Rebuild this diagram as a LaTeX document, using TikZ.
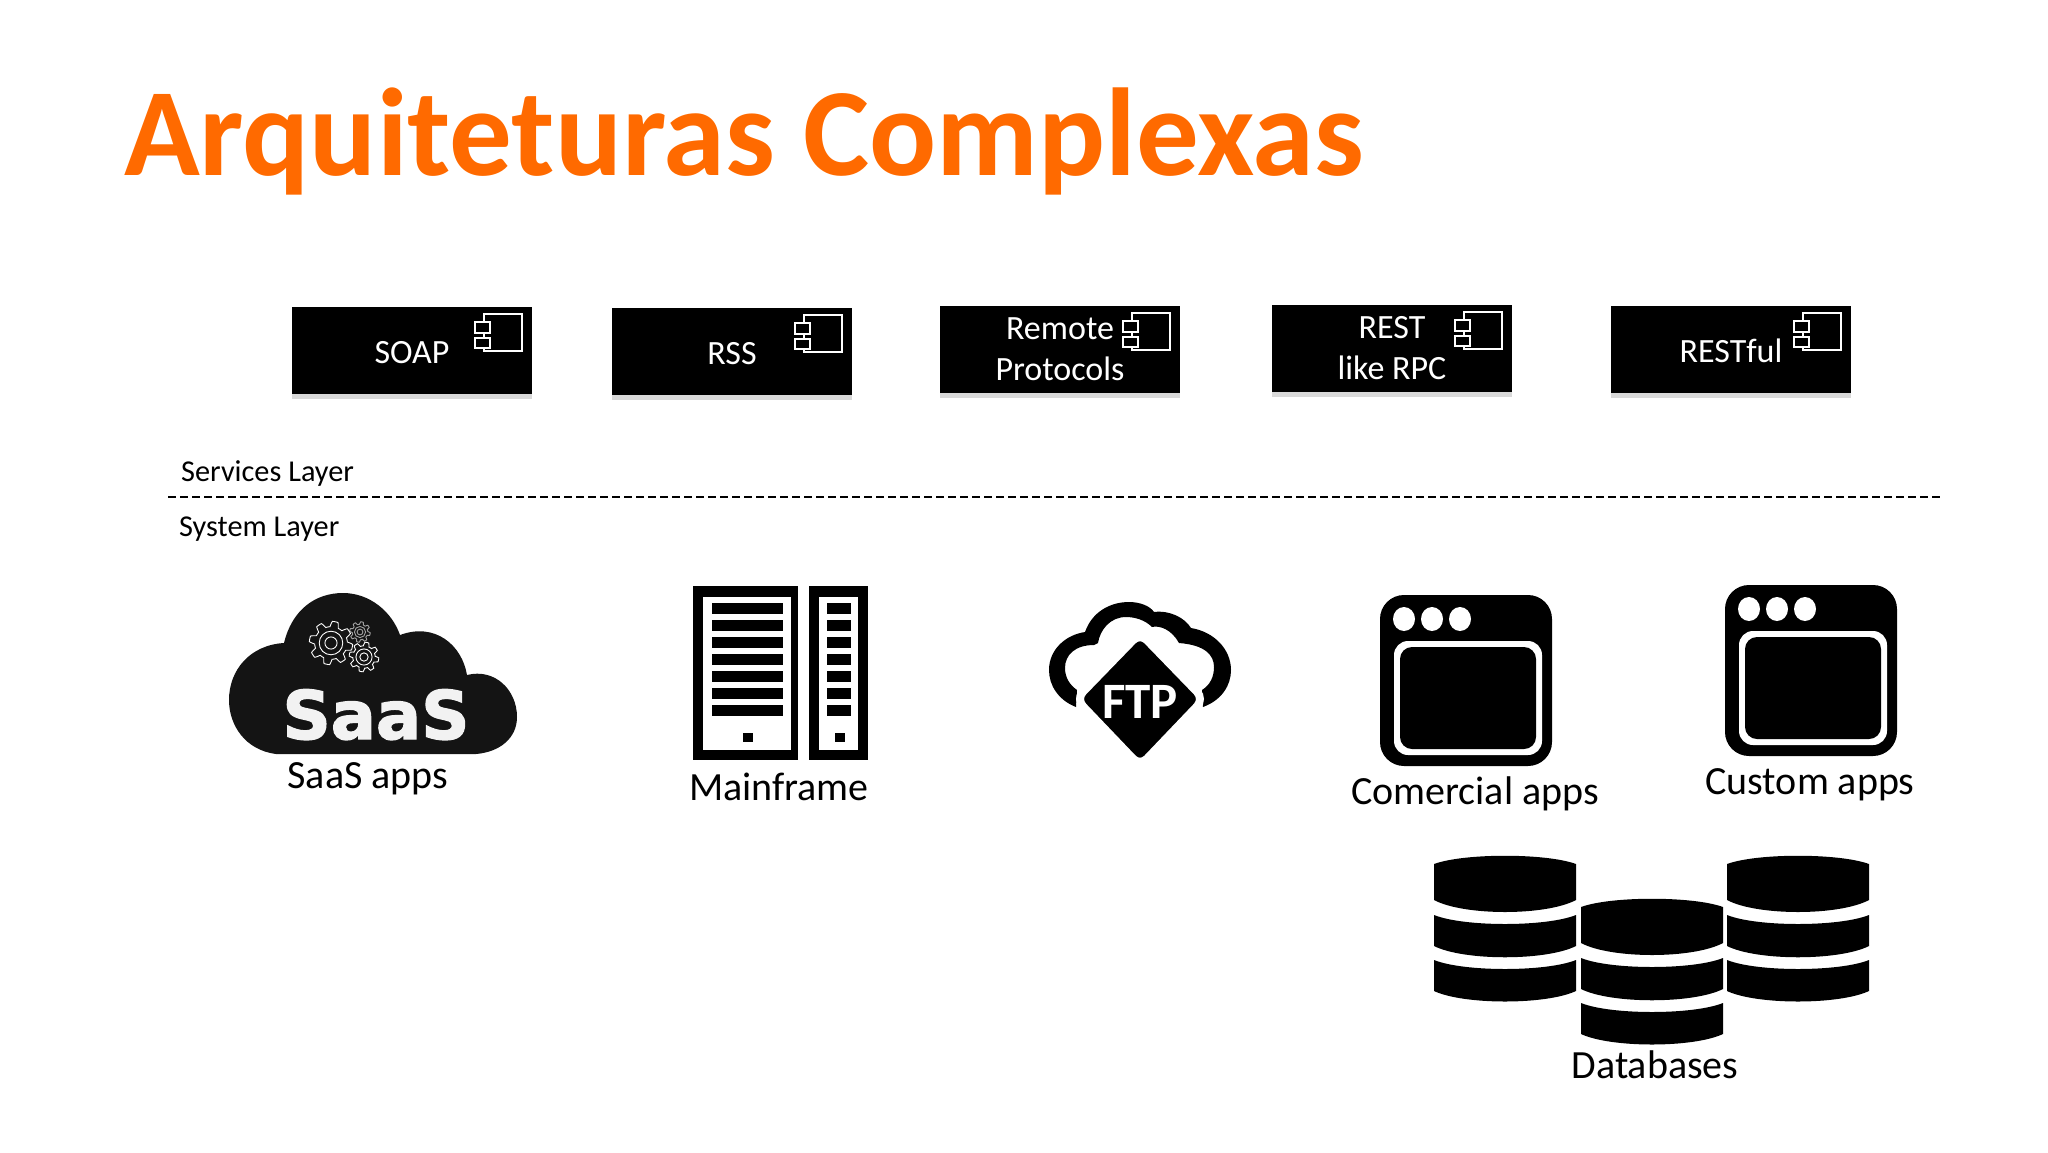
\documentclass[tikz,border=0pt]{standalone}
\usepackage{fontspec}
\setmainfont{Carlito}
\newfontfamily\saasfont[BoldFeatures={FakeBold=2}]{DejaVu Sans}
\usetikzlibrary{shadows}
\definecolor{titleorange}{HTML}{FF6A00}

\tikzset{
	compbox/.style={fill=black, text=white, minimum width=240pt, minimum height=87pt, inner sep=0pt, align=center,
		font=\fontsize{34}{41}\selectfont, execute at begin node={\rule{0pt}{27pt}},
		drop shadow={shadow xshift=0pt, shadow yshift=-5pt, opacity=.3}},
	layertext/.style={anchor=base west, inner sep=0pt, font=\fontsize{30.3}{37}\selectfont},
	apptext/.style={anchor=base, inner sep=0pt, font=\fontsize{40}{47}\selectfont},
	compicon/.pic={
		\draw[white, line width=1.8pt] (192,8) rectangle (230,45);
		\draw[white, fill=black, line width=1.8pt] (183,16) rectangle (198,27);
		\draw[white, fill=black, line width=1.8pt] (183,32) rectangle (198,42);
	},
	gearwheel/.pic={
		\draw[white, line width=.9pt] plot[domain=0:360, samples=97, smooth] (\x:{1+.14*sign(sin(8*\x))});
		\draw[white, line width=.9pt] (0,0) circle (.62);
		\draw[white, line width=.9pt] (0,0) circle (.32);
	},
	winicon/.pic={
		\fill[black, rounded corners=24pt] (0,0) rectangle (172,171);
		\fill[white, rounded corners=14pt] (14,46) rectangle (162,160);
		\fill[black, rounded corners=12pt] (20,52) rectangle (156,154);
		\foreach \dotx in {24,52,80} \fill[white] (\dotx,24) ellipse (11 and 12);
	},
	dbstack/.pic={
		\fill[black] (0,8) .. controls (30,-3) and (112,-3) .. (142,8) -- (142,44) .. controls (112,60) and (30,60) .. (0,44) -- cycle;
		\fill[black] (0,59) .. controls (30,71) and (112,71) .. (142,59) -- (142,90) .. controls (112,105) and (30,105) .. (0,90) -- cycle;
		\fill[black] (0,104) .. controls (30,116) and (112,116) .. (142,104) -- (142,135) .. controls (112,149) and (30,149) .. (0,135) -- cycle;
	},
}

\begin{document}
\begin{tikzpicture}[x=1pt, y=-1pt]
	\useasboundingbox (0,0) rectangle (2048,1152);
	\node (title) [anchor=base west, inner sep=0pt, text=titleorange, font=\fontsize{125}{130}\selectfont\bfseries] at (124,175) {Arquiteturas Complexas};

	% services
	\node (soap) [compbox] at (412,350) {SOAP};
	\node (rss) [compbox] at (732,351) {RSS};
	\node (remote) [compbox] at (1060,349) {Remote\\Protocols};
	\node (restlike) [compbox] at (1392,348) {REST\\like RPC};
	\node (restful) [compbox] at (1731,349) {RESTful};
	\foreach \boxname in {soap,rss,remote,restlike,restful}
		\pic at (\boxname.north west) {compicon};

	% layers
	\node (services) [layertext] at (181,481) {Services Layer};
	\node (system) [layertext] at (179,536) {System Layer};
	\coordinate (dashl) at (168,497);
	\coordinate (dashr) at (1940,497);
	\draw[line width=1.8pt, dash pattern=on 8pt off 4pt] (dashl) -- (dashr);

	% saas cloud
	\fill[black!92] (276,754) .. controls (245,750) and (229,725) .. (229,700) .. controls (229,670) and (250,645) .. (284,643) .. controls (292,610) and (315,593) .. (343,593) .. controls (370,593) and (392,612) .. (400,635) .. controls (435,622) and (462,645) .. (467,675) .. controls (495,668) and (517,690) .. (517,717) .. controls (517,738) and (500,752) .. (476,754) -- cycle;
	\pic[scale=19] at (331,643) {gearwheel};
	\pic[scale=13] at (364,657) {gearwheel};
	\pic[scale=9, opacity=.6] at (360,632) {gearwheel};
	\node (saaslogo) [anchor=base, inner sep=0pt, text=white!95!black, font=\saasfont\fontsize{67}{70}\selectfont\bfseries] at (376,739) {SaaS};
	\node (saas) [apptext] at (368,788) {SaaS apps};

	% mainframe
	\fill[black] (693,586) rectangle (798,760);
	\fill[black] (809,586) rectangle (868,760);
	\fill[white] (703,597) rectangle (791,750);
	\fill[white] (819,597) rectangle (858,750);
	\foreach \i in {0,...,6} {
		\fill[black] (712,603+17*\i) rectangle (783,614+17*\i);
		\fill[black] (827,603+17*\i) rectangle (851,614+17*\i);
	}
	\fill[black] (743,733) rectangle (753,742);
	\fill[black] (835,733) rectangle (845,742);
	\node (mainframe) [apptext] at (779,800) {Mainframe};

	% ftp
	\fill[black] (1076,707) .. controls (1058,700) and (1049,685) .. (1049,670) .. controls (1049,650) and (1065,635) .. (1085,632) .. controls (1092,612) and (1110,602) .. (1129,602) .. controls (1140,602) and (1150,606) .. (1154,612) .. controls (1170,610) and (1185,618) .. (1191,628) .. controls (1215,632) and (1231,650) .. (1231,670) .. controls (1231,685) and (1222,700) .. (1203,707) -- (1202,690) .. controls (1210,685) and (1214,677) .. (1214,667) .. controls (1214,655) and (1205,645) .. (1179,643) .. controls (1172,630) and (1160,625) .. (1152,627) .. controls (1145,620) and (1135,617) .. (1126,617) .. controls (1110,617) and (1100,630) .. (1098,643) -- (1094,645) .. controls (1075,645) and (1065,655) .. (1065,668) .. controls (1065,678) and (1070,685) .. (1077,690) -- cycle;
	\draw[white, fill=black, line width=8pt, rounded corners=10pt] (1140,633) -- (1204,699) -- (1140,766) -- (1076,699) -- cycle;
	\node (ftp) [anchor=base, inner sep=0pt, text=white, font=\fontsize{51}{54}\selectfont\bfseries] at (1140,718) {FTP};

	% windows
	\pic at (1380,595) {winicon};
	\pic at (1725,585) {winicon};
	\node (comercial) [apptext] at (1475,804) {Comercial apps};
	\node (custom) [apptext] at (1810,794) {Custom apps};

	% databases
	\pic at (1434,856) {dbstack};
	\pic at (1727,856) {dbstack};
	\pic at (1581,899) {dbstack};
	\node (databases) [apptext] at (1655,1078) {Databases};
\end{tikzpicture}
\end{document}
